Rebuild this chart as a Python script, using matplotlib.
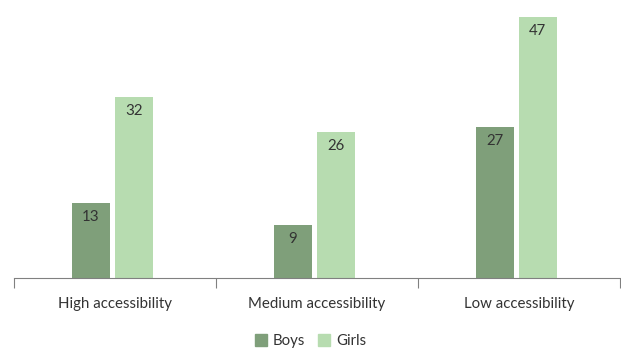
import matplotlib
matplotlib.use("Agg")
import matplotlib.pyplot as plt
import numpy as np
from matplotlib.patches import Patch

categories = ["High accessibility", "Medium accessibility", "Low accessibility"]
boys = [13.38, 9.45, 26.89]
girls = [32.24, 26.10, 46.51]
series_names = ["Boys", "Girls"]

c_boys = "#7f9f7a"
c_girls = "#b7dcb0"
txt = "#333333"

plt.rcParams['font.family'] = ['Lato', 'DejaVu Sans']

fig = plt.figure(figsize=(6.21, 3.51), dpi=100)
ax = fig.add_axes([14/621, (351-278)/351, 606/621, 278/351])

x = np.arange(len(categories))
w = 0.188
b1 = ax.bar(x - 0.12, boys, w, color=c_boys)
b2 = ax.bar(x + 0.093, girls, w, color=c_girls)
for bars, vals in ((b1, boys), (b2, girls)):
    for r, v in zip(bars, vals):
        ax.text(r.get_x() + r.get_width()/2, v - 1.3, f"{v:.0f}", ha='center', va='top',
                fontsize=10.8, color=txt)

ax.set_xlim(-0.5, 2.5)
ax.set_ylim(0, 49.55)
for s in ['top', 'right', 'left']:
    ax.spines[s].set_visible(False)
ax.spines['bottom'].set_color('#808080')
ax.set_yticks([])
ax.set_xticks([-0.5, 0.5, 1.5, 2.5])
ax.set_xticklabels([])
ax.tick_params(axis='x', length=7, color='#808080', direction='out')
ax.set_xticks(x, minor=True)
ax.set_xticklabels(categories, minor=True, fontsize=10.8, color=txt)
ax.tick_params(axis='x', which='minor', length=0, pad=14)

handles = [Patch(color=c_boys), Patch(color=c_girls)]
fig.legend(handles, series_names, loc='center', bbox_to_anchor=(0.5, 1 - 341/351),
           ncol=2, frameon=False, fontsize=10.8, handlelength=0.8, handleheight=0.8,
           handletextpad=0.4, columnspacing=0.9, labelcolor=txt)

fig.savefig("out.png", dpi=100)
